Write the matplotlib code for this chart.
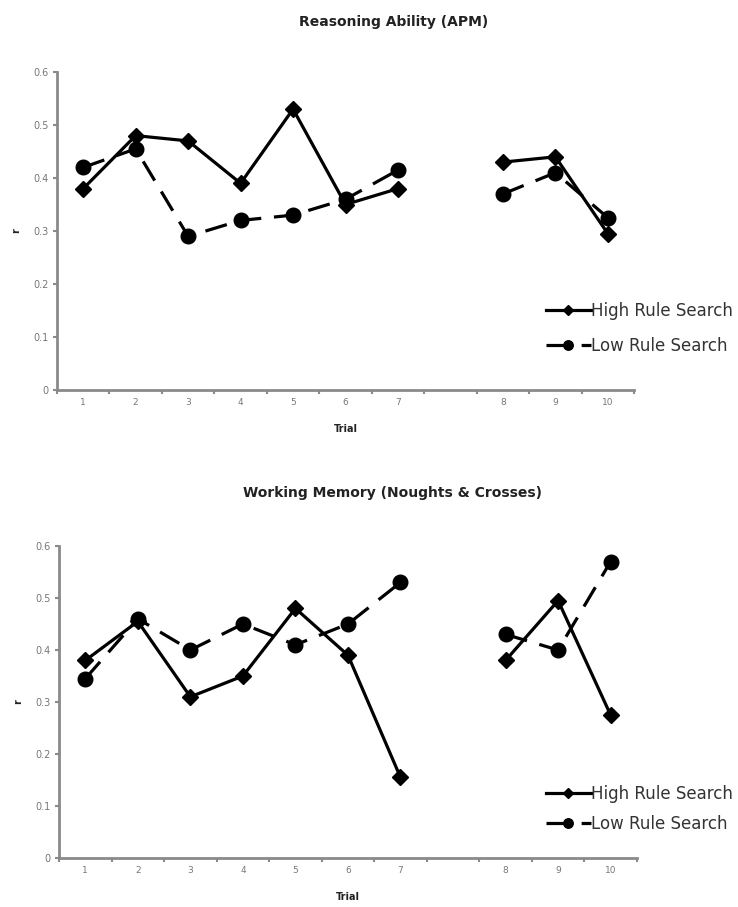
import numpy as np
import matplotlib
matplotlib.use("Agg")
import matplotlib.pyplot as plt
from matplotlib.ticker import MultipleLocator, FixedLocator

# Trial categories (an empty slot separates trial 7 from trial 8)
trial_labels = ["1", "2", "3", "4", "5", "6", "7", "", "8", "9", "10"]

# Correlations with reasoning ability (APM)
apm_high = [0.38, 0.48, 0.47, 0.39, 0.53, 0.35, 0.38, np.nan, 0.43, 0.44, 0.295]
apm_low = [0.42, 0.455, 0.29, 0.32, 0.33, 0.36, 0.415, np.nan, 0.37, 0.41, 0.325]

# Correlations with working memory (Noughts & Crosses)
wm_high = [0.38, 0.455, 0.31, 0.35, 0.48, 0.39, 0.155, np.nan, 0.38, 0.495, 0.275]
wm_low = [0.345, 0.46, 0.40, 0.45, 0.41, 0.45, 0.53, np.nan, 0.43, 0.40, 0.57]

series_names = ["High Rule Search", "Low Rule Search"]

plt.rcParams["font.family"] = ["DejaVu Sans"]

fig = plt.figure(figsize=(7.38, 9.07), dpi=100)
ax_top = fig.add_axes([0.0772, 0.570, 0.782, 0.3506])
ax_bot = fig.add_axes([0.0800, 0.054, 0.783, 0.344])

axis_grey = "#8a8a8a"
label_grey = "#777777"
text_dark = "#222222"


def draw_panel(ax, high, low, legend_y, spacing):
    x = np.arange(1, len(trial_labels) + 1)
    ax.plot(x, high, color="black", lw=2.3, ls="-", marker="D",
            markersize=8, markeredgecolor="black", label=series_names[0])
    ax.plot(x, low, color="black", lw=2.3, ls=(0, (7, 4)), marker="o",
            markersize=10.5, markeredgecolor="black", label=series_names[1])

    ax.set_xlim(0.5, len(trial_labels) + 0.5)
    ax.set_ylim(0, 0.6)
    ax.yaxis.set_major_locator(MultipleLocator(0.1))
    ax.set_yticklabels(["0" if v == 0 else f"{v:.1f}" for v in ax.get_yticks()])

    ax.xaxis.set_major_locator(FixedLocator(x))
    ax.set_xticklabels(trial_labels)
    ax.xaxis.set_minor_locator(FixedLocator(np.arange(0.5, len(trial_labels) + 1, 1.0)))
    ax.tick_params(axis="x", which="major", length=0, pad=6,
                   labelsize=6.5, labelcolor=label_grey)
    ax.tick_params(axis="x", which="minor", length=3, width=1.5,
                   color=axis_grey, direction="out")
    ax.tick_params(axis="y", which="major", length=3, width=1.5,
                   color=axis_grey, direction="out", labelsize=7,
                   labelcolor=label_grey, pad=3)

    for side in ("top", "right"):
        ax.spines[side].set_visible(False)
    for side in ("left", "bottom"):
        ax.spines[side].set_color(axis_grey)
        ax.spines[side].set_linewidth(2)

    ax.set_xlabel("Trial", fontsize=7, fontweight="bold", color=text_dark,
                  labelpad=12)
    ax.set_ylabel("r", fontsize=7, fontweight="bold", color=text_dark,
                  labelpad=9)

    leg = ax.legend(loc="center left", bbox_to_anchor=(0.728, legend_y),
                    bbox_transform=fig.transFigure, frameon=False,
                    fontsize=12, handlelength=2.7, handletextpad=0.0,
                    labelspacing=spacing, markerscale=0.65, borderpad=0)
    for txt in leg.get_texts():
        txt.set_color("#333333")


draw_panel(ax_top, apm_high, apm_low, 0.638, 1.0)
draw_panel(ax_bot, wm_high, wm_low, 0.108, 0.75)

# panel titles, centred over the plotting area
fig.text(0.534, 0.976, "Reasoning Ability (APM)", ha="center", va="center",
         fontsize=10, fontweight="bold", color=text_dark)
fig.text(0.532, 0.456, "Working Memory (Noughts & Crosses)", ha="center",
         va="center", fontsize=10, fontweight="bold", color=text_dark)

fig.savefig("out.png", dpi=100, facecolor="white")
